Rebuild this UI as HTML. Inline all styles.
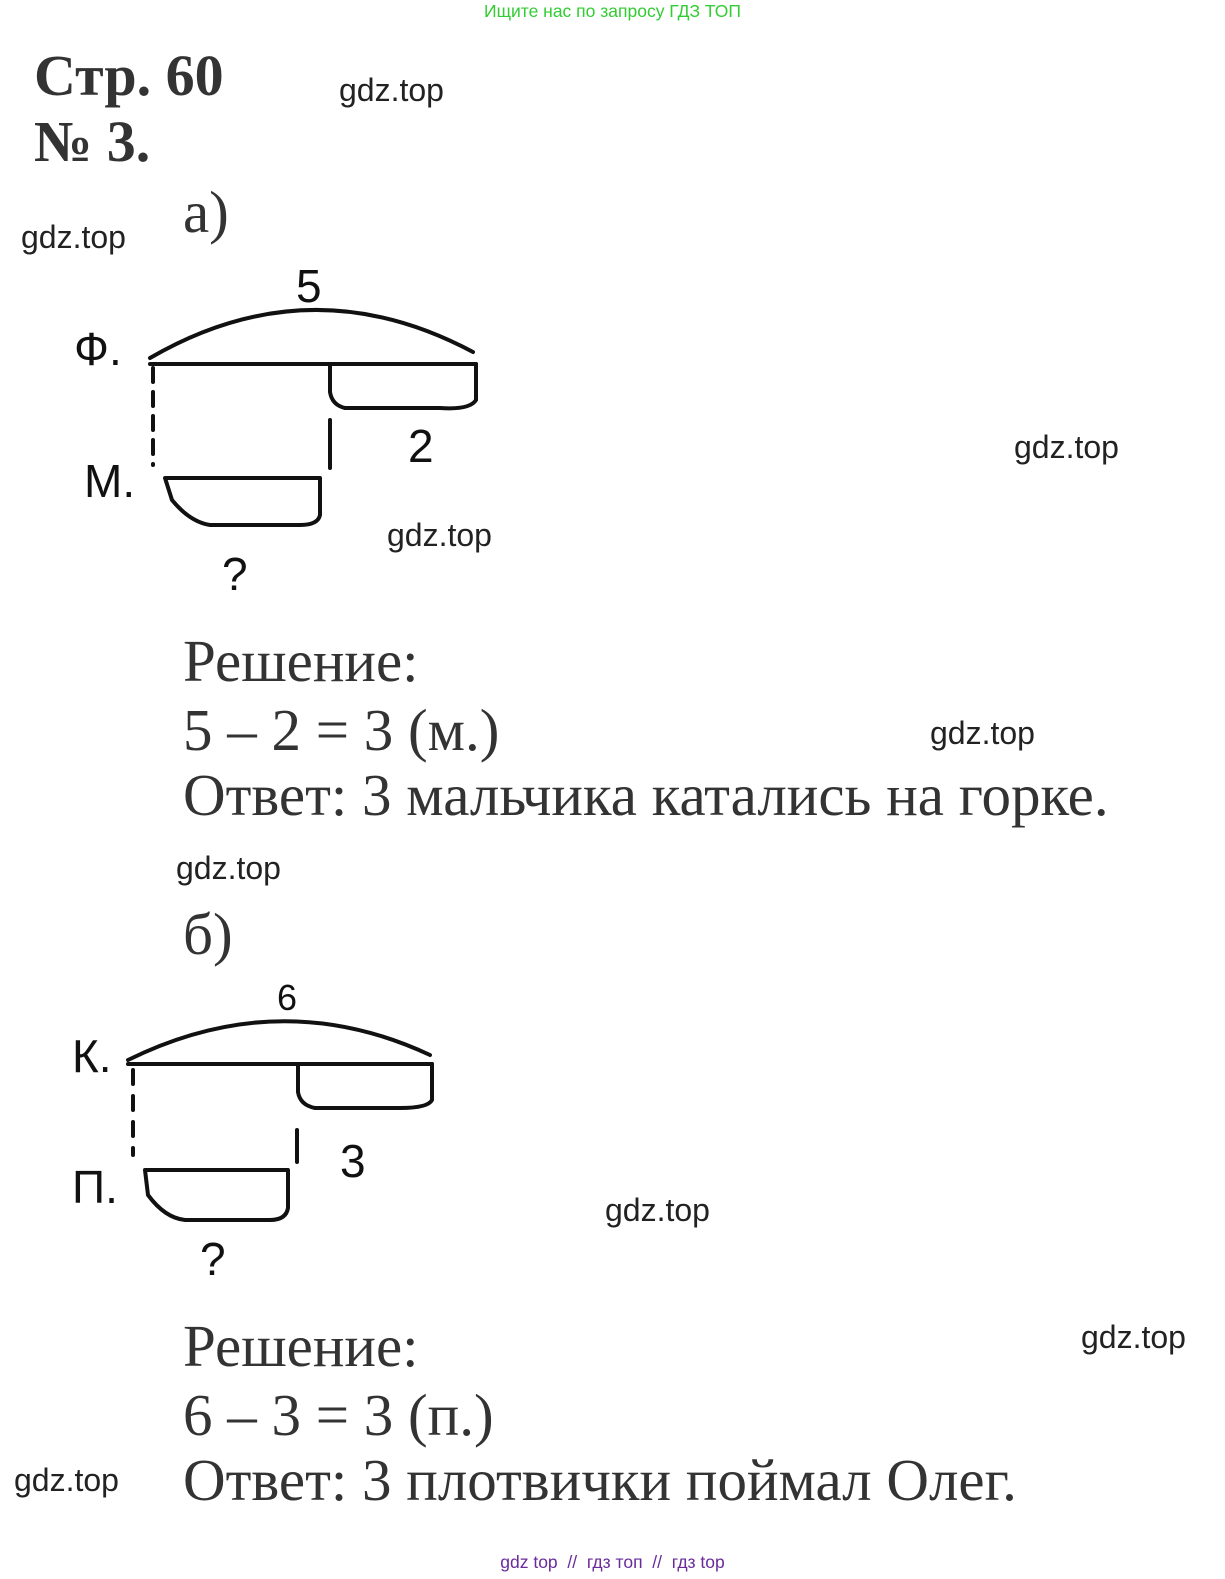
<!DOCTYPE html>
<html><head><meta charset="utf-8"><style>
body{margin:0;background:#fff;width:1225px;height:1579px;position:relative;overflow:hidden}
.a{position:absolute;white-space:nowrap}
.w{font-family:"Liberation Sans",sans-serif;font-size:32px;color:#222}
.s{font-family:"Liberation Serif",serif;font-size:59px;color:#333}
.b{font-family:"Liberation Serif",serif;font-size:58px;font-weight:bold;color:#333}
</style></head><body>
<div class="a" style="left:0;width:1225px;text-align:center;top:1px;font:17.5px 'Liberation Sans',sans-serif;color:#33cc33">Ищите нас по запросу ГДЗ ТОП</div>
<div class="a b" style="left:34px;top:42px">Стр. 60</div>
<div class="a b" style="left:34px;top:108px">№ 3.</div>
<div class="a w" style="left:339px;top:72px">gdz.top</div>
<div class="a s" style="left:183px;top:178px">а)</div>
<div class="a w" style="left:21px;top:219px">gdz.top</div>
<div class="a w" style="left:1014px;top:429px">gdz.top</div>
<div class="a w" style="left:387px;top:517px">gdz.top</div>
<div class="a s" style="left:183px;top:627px">Решение:</div>
<div class="a s" style="left:183px;top:696px">5 – 2 = 3 (м.)</div>
<div class="a w" style="left:930px;top:715px">gdz.top</div>
<div class="a s" style="left:183px;top:761px">Ответ: 3 мальчика катались на горке.</div>
<div class="a w" style="left:176px;top:850px">gdz.top</div>
<div class="a s" style="left:183px;top:900px">б)</div>
<div class="a w" style="left:605px;top:1192px">gdz.top</div>
<div class="a w" style="left:1081px;top:1319px">gdz.top</div>
<div class="a s" style="left:183px;top:1312px">Решение:</div>
<div class="a s" style="left:183px;top:1381px">6 – 3 = 3 (п.)</div>
<div class="a w" style="left:14px;top:1462px">gdz.top</div>
<div class="a s" style="left:183px;top:1446px">Ответ: 3 плотвички поймал Олег.</div>
<div class="a" style="left:0;width:1225px;text-align:center;top:1552px;font:17.5px 'Liberation Sans',sans-serif;color:#6a2a9a">gdz top &nbsp;// &nbsp;гдз топ &nbsp;// &nbsp;гдз top</div>
<svg class="a" style="left:0;top:0" width="1225" height="1579" fill="none" stroke="#111" stroke-width="4" stroke-linecap="round">
<g font-family="Liberation Sans,sans-serif" fill="#111" stroke="none" font-size="46">
<text x="296" y="302">5</text><text x="74" y="365">Ф.</text><text x="408" y="462">2</text>
<text x="84" y="497">М.</text><text x="222" y="590">?</text>
<text x="277" y="1010" font-size="36">6</text><text x="72" y="1072">К.</text>
<text x="340" y="1177">3</text><text x="72" y="1203">П.</text><text x="200" y="1275">?</text>
</g>
<path d="M150 358 Q310 265 473 352"/><path d="M150 364 H476"/>
<path d="M476 364 V400 Q470 410 440 408 H345 Q332 405 330 392 V364"/>
<path d="M153 368 V465" stroke-dasharray="14 10"/><path d="M330 420 V468"/>
<path d="M165 478 H320 V515 Q318 525 300 525 H210 Q190 522 172 500 Z" stroke-linejoin="round"/>
<path d="M128 1060 Q280 985 430 1055"/><path d="M128 1064 H432"/>
<path d="M432 1064 V1100 Q428 1108 400 1108 H315 Q300 1105 298 1092 V1064"/>
<path d="M133 1070 V1155" stroke-dasharray="14 12"/><path d="M297 1130 V1162"/>
<path d="M145 1170 H288 V1208 Q286 1220 270 1220 H185 Q165 1218 148 1195 Z" stroke-linejoin="round"/>
</svg>
</body></html>
